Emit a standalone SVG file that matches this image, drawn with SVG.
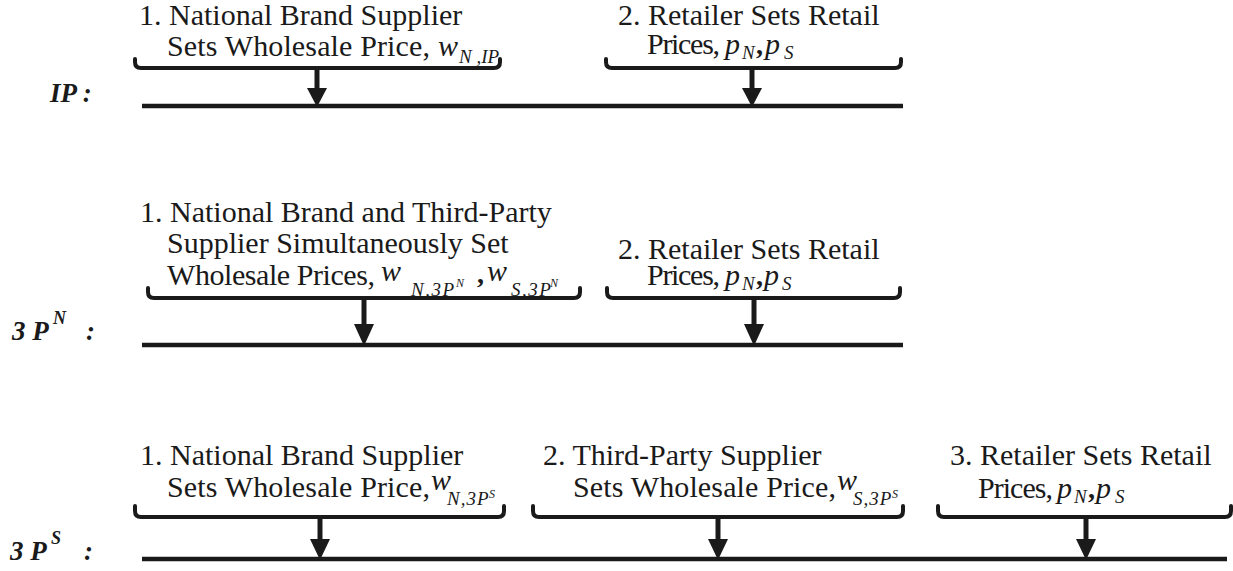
<svg xmlns="http://www.w3.org/2000/svg" width="1233" height="571" viewBox="0 0 1233 571">
<style>
.t{font-family:"Liberation Serif","DejaVu Serif",serif;font-size:30px;fill:#1a1a1a}
.i{font-style:italic}
.sub{font-family:"Liberation Serif","DejaVu Serif",serif;font-style:italic;font-size:19px;fill:#1a1a1a}
.sup{font-family:"Liberation Serif","DejaVu Serif",serif;font-style:italic;font-size:12px;fill:#1a1a1a}
.cm{font-family:"Liberation Serif","DejaVu Serif",serif;font-weight:bold;font-size:28px;fill:#1a1a1a}
.lbl{font-family:"Liberation Serif","DejaVu Serif",serif;font-weight:bold;font-style:italic;font-size:27px;fill:#1a1a1a}
.lsup{font-family:"Liberation Serif","DejaVu Serif",serif;font-weight:bold;font-style:italic;font-size:18px;fill:#1a1a1a}
.brace{fill:none;stroke:#1a1a1a;stroke-width:4;stroke-linejoin:round;stroke-linecap:round}
.tl{stroke:#1a1a1a;stroke-width:4.5}
.stem{stroke:#1a1a1a;stroke-width:5}
.head{fill:#1a1a1a}
</style>

<!-- Row labels -->
<g id="label-ip"><text class="lbl" x="50" y="102">IP :</text></g>
<g id="label-3pn"><text class="lbl" x="12" y="340">3 P</text><text class="lsup" x="53" y="324">N</text><text class="lbl" x="86" y="340">:</text></g>
<g id="label-3ps"><text class="lbl" x="10" y="560">3 P</text><text class="lsup" x="51" y="544">S</text><text class="lbl" x="84" y="560">:</text></g>

<!-- Row 1 (IP) -->
<g id="ip-stage1">
<text class="t" x="139" y="25">1. National Brand Supplier</text>
<text class="t" x="167" y="56" textLength="263">Sets Wholesale Price,</text>
<text class="t i" x="438" y="56">w</text>
<text class="sub" x="459" y="63">N ,IP</text>
<path class="brace" d="M135,59 V62 Q135,68 141,68 H494 Q500,68 500,62 V59"/>
</g>
<g id="ip-stage2">
<text class="t" x="618" y="25">2. Retailer Sets Retail</text>
<text class="t" x="647" y="54" textLength="73">Prices,</text>
<text class="t i" x="725" y="54">p</text>
<text class="sub" x="742" y="59" font-size="16">N</text>
<text class="cm" x="756" y="54">,</text>
<text class="t i" x="765" y="54">p</text>
<text class="sub" x="784" y="59" font-size="16">S</text>
<path class="brace" d="M606,59 V62 Q606,68 612,68 H895 Q901,68 901,62 V59"/>
</g>

<!-- Row 2 (3P^N) -->
<g id="3pn-stage1">
<text class="t" x="140" y="222">1. National Brand and Third-Party</text>
<text class="t" x="167" y="253">Supplier Simultaneously Set</text>
<text class="t" x="167" y="285" textLength="208">Wholesale Prices,</text>
<text class="t i" x="381" y="281" font-size="33">w</text>
<text class="sub" x="411" y="296" letter-spacing="1.5">N,3P</text>
<text class="sup" x="456" y="287">N</text>
<text class="cm" x="477" y="283">,</text>
<text class="t i" x="487" y="281" font-size="33">w</text>
<text class="sub" x="511" y="296" letter-spacing="1.5">S,3P</text>
<text class="sup" x="550" y="287">N</text>
<path class="brace" d="M148,288 V292 Q148,298 154,298 H574 Q580,298 580,292 V288"/>
</g>
<g id="3pn-stage2">
<text class="t" x="618" y="259">2. Retailer Sets Retail</text>
<text class="t" x="647" y="285" textLength="73">Prices,</text>
<text class="t i" x="725" y="285">p</text>
<text class="sub" x="742" y="290" font-size="16">N</text>
<text class="cm" x="756" y="285">,</text>
<text class="t i" x="764" y="285">p</text>
<text class="sub" x="782" y="290" font-size="16">S</text>
<path class="brace" d="M607,288 V292 Q607,298 613,298 H894 Q900,298 900,292 V288"/>
</g>

<!-- Row 3 (3P^S) -->
<g id="3ps-stage1">
<text class="t" x="140" y="465">1. National Brand Supplier</text>
<text class="t" x="167" y="497" textLength="263">Sets Wholesale Price,</text>
<text class="t i" x="431" y="490" font-size="22">w</text>
<text class="sub" x="447" y="505" font-size="18" letter-spacing="1">N,3P</text>
<text class="sup" x="489" y="498">S</text>
<path class="brace" d="M135,506 V511 Q135,517 141,517 H498 Q504,517 504,511 V506"/>
</g>
<g id="3ps-stage2">
<text class="t" x="543" y="465">2. Third-Party Supplier</text>
<text class="t" x="573" y="497" textLength="263">Sets Wholesale Price,</text>
<text class="t i" x="837" y="490" font-size="22">w</text>
<text class="sub" x="853" y="505" font-size="18" letter-spacing="1">S,3P</text>
<text class="sup" x="892" y="498">S</text>
<path class="brace" d="M533,506 V511 Q533,517 539,517 H897 Q903,517 903,511 V506"/>
</g>
<g id="3ps-stage3">
<text class="t" x="950" y="465">3. Retailer Sets Retail</text>
<text class="t" x="978" y="498" textLength="75">Prices,</text>
<text class="t i" x="1057" y="498">p</text>
<text class="sub" x="1074" y="503" font-size="16">N</text>
<text class="cm" x="1088" y="498">,</text>
<text class="t i" x="1096" y="498">p</text>
<text class="sub" x="1115" y="503" font-size="16">S</text>
<path class="brace" d="M938,506 V511 Q938,517 944,517 H1225 Q1231,517 1231,511 V506"/>
</g>

<!-- Connectors: timelines and arrows -->
<g id="connectors">
<line class="tl" x1="142" y1="106" x2="903" y2="106"/>
<line class="tl" x1="142" y1="345" x2="903" y2="345"/>
<line class="tl" x1="142" y1="559" x2="1227" y2="559"/>

<line class="stem" x1="317" y1="68" x2="317" y2="90"/>
<polygon class="head" points="307,88 327,88 317,107"/>
<line class="stem" x1="752" y1="68" x2="752" y2="90"/>
<polygon class="head" points="742,88 762,88 752,107"/>

<line class="stem" x1="364" y1="298" x2="364" y2="326"/>
<polygon class="head" points="354,324 374,324 364,346"/>
<line class="stem" x1="754" y1="298" x2="754" y2="326"/>
<polygon class="head" points="744,324 764,324 754,346"/>

<line class="stem" x1="320" y1="517" x2="320" y2="541"/>
<polygon class="head" points="310,539 330,539 320,560"/>
<line class="stem" x1="718" y1="517" x2="718" y2="541"/>
<polygon class="head" points="708,539 728,539 718,560"/>
<line class="stem" x1="1086" y1="517" x2="1086" y2="541"/>
<polygon class="head" points="1076,539 1096,539 1086,560"/>
</g>
</svg>
